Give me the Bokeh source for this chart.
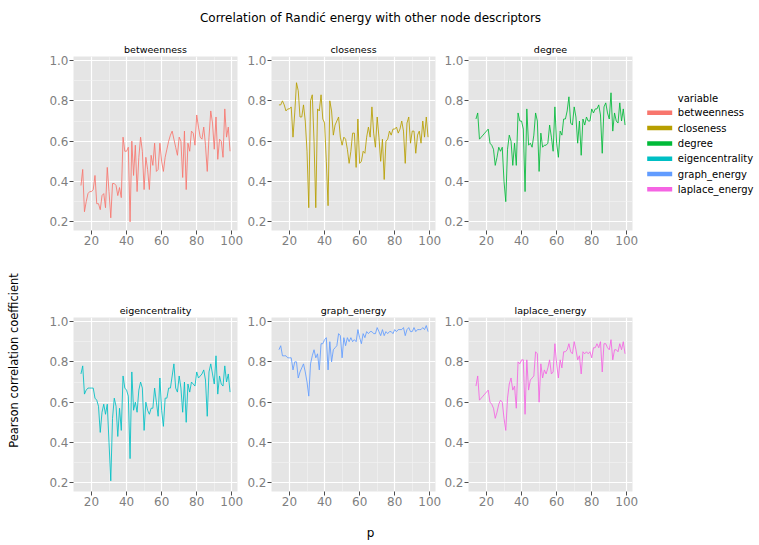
import math
from bokeh.plotting import figure
from bokeh.models import Range1d, FixedTicker, Label
from bokeh.layouts import row, column
from bokeh.embed import file_html
from bokeh.resources import INLINE
from bokeh.core.properties import value

# ---------------- data ----------------
p_values = list(range(14, 100))

variables = ["betweenness", "closeness", "degree", "eigencentrality",
             "graph_energy", "laplace_energy"]
colors = ["#F8766D", "#B79F00", "#00BA38", "#00BFC4", "#619CFF", "#F564E3"]

betweenness = [.38, .46, .25, .30, .34, .35, .35, .36, .43, .29,
               .29, .26, .33, .34, .27, .47, .35, .22, .39, .39,
               .38, .33, .37, .32, .62, .55, .55, .57, .20, .60,
               .43, .58, .35, .52, .62, .55, .36, .52, .46, .36,
               .53, .48, .59, .45, .46, .59, .50, .45, .52, .56,
               .60, .63, .65, .61, .57, .53, .62, .60, .42, .65,
               .36, .59, .55, .65, .64, .58, .73, .67, .62, .61,
               .67, .58, .45, .62, .75, .69, .56, .72, .51, .61,
               .60, .52, .76, .62, .67, .55]

closeness = [.78, .78, .80, .78, .75, .76, .76, .77, .62, .74,
             .89, .85, .72, .72, .78, .70, .55, .27, .80, .83,
             .60, .27, .76, .75, .83, .71, .69, .50, .28, .80,
             .75, .63, .68, .70, .72, .62, .58, .62, .61, .56,
             .49, .55, .64, .64, .47, .71, .49, .50, .55, .54,
             .62, .67, .62, .77, .64, .57, .72, .62, .50, .61,
             .41, .60, .61, .65, .63, .66, .66, .67, .64, .66,
             .70, .65, .49, .69, .72, .59, .65, .65, .54, .63,
             .65, .59, .70, .62, .72, .62]

degree = [.71, .74, .61, .62, .63, .64, .65, .66, .59, .58,
          .56, .48, .52, .57, .55, .57, .40, .30, .56, .63,
          .60, .48, .59, .48, .74, .70, .70, .66, .35, .76,
          .58, .59, .57, .63, .74, .70, .45, .64, .57, .58,
          .58, .59, .68, .62, .55, .77, .59, .52, .65, .63,
          .71, .71, .75, .82, .69, .68, .77, .72, .59, .70,
          .53, .71, .68, .72, .70, .70, .76, .74, .76, .76,
          .78, .73, .54, .77, .79, .74, .71, .84, .65, .74,
          .70, .69, .79, .70, .76, .68]

eigencentrality = [.74, .78, .64, .66, .67, .67, .67, .67, .62, .61,
                   .58, .45, .55, .59, .54, .59, .40, .21, .52, .62,
                   .58, .43, .57, .46, .73, .67, .66, .63, .32, .75,
                   .56, .60, .55, .66, .70, .67, .46, .60, .56, .54,
                   .57, .57, .67, .60, .53, .72, .56, .48, .62, .62,
                   .67, .67, .73, .79, .67, .65, .73, .67, .55, .70,
                   .50, .69, .65, .70, .69, .68, .75, .72, .73, .74,
                   .76, .71, .53, .75, .79, .74, .69, .83, .64, .73,
                   .69, .68, .78, .70, .74, .65]

graph_energy = [.86, .88, .83, .83, .83, .82, .82, .82, .76, .80,
                .80, .72, .75, .77, .79, .75, .70, .63, .79, .83,
                .86, .82, .84, .76, .89, .89, .91, .92, .76, .90,
                .80, .86, .87, .88, .94, .93, .82, .92, .88, .92,
                .90, .92, .90, .91, .90, .96, .92, .89, .94, .92,
                .95, .94, .95, .95, .94, .94, .97, .95, .93, .96,
                .93, .95, .94, .95, .95, .94, .96, .95, .96, .96,
                .96, .97, .93, .96, .97, .95, .95, .97, .95, .96,
                .96, .96, .97, .96, .98, .95]

laplace_energy = [.68, .73, .61, .62, .63, .64, .65, .66, .60, .59,
                  .57, .52, .55, .59, .61, .60, .52, .46, .62, .69,
                  .72, .66, .68, .57, .80, .79, .81, .81, .54, .81,
                  .66, .71, .72, .73, .85, .84, .60, .79, .72, .76,
                  .74, .77, .81, .74, .75, .89, .79, .72, .81, .77,
                  .85, .85, .86, .89, .85, .84, .90, .86, .81, .83,
                  .74, .85, .84, .85, .84, .85, .82, .87, .87, .89,
                  .87, .90, .75, .89, .89, .87, .86, .91, .81, .86,
                  .86, .85, .89, .86, .90, .84]

series = [betweenness, closeness, degree, eigencentrality, graph_energy, laplace_energy]

x_ticks = [20, 40, 60, 80, 100]
x_minor = [30, 50, 70, 90]
y_ticks = [0.2, 0.4, 0.6, 0.8, 1.0]
y_minor = [0.3, 0.5, 0.7, 0.9]

title_text = "Correlation of Randić energy with other node descriptors"
x_label = "p"
y_label = "Pearson correlation coefficient"
legend_title = "variable"

# ---------------- styling ----------------
FONT = "DejaVu Sans"
BG = "#E5E5E5"
TICK_COLOR = "#7F7F7F"


def blank(width, height):
    f = figure(width=width, height=height, output_backend="svg", toolbar_location=None,
               x_range=Range1d(0, width), y_range=Range1d(height, 0),
               x_axis_location=None, y_axis_location=None, min_border=0)
    f.outline_line_color = None
    f.grid.visible = False
    f.background_fill_color = "white"
    f.border_fill_color = "white"
    return f


def panel(idx, top_border, bottom_border, left_border, right_border):
    f = figure(frame_width=164, frame_height=174, output_backend="svg",
               toolbar_location=None,
               x_range=Range1d(9.75, 103.25), y_range=Range1d(0.157, 1.02),
               min_border_left=left_border, min_border_right=right_border,
               min_border_top=top_border, min_border_bottom=bottom_border)
    f.background_fill_color = BG
    f.border_fill_color = "white"
    f.outline_line_color = None
    f.title.text = variables[idx]
    f.title.align = "center"
    f.title.text_font = FONT
    f.title.text_font_size = "9.5px"
    f.title.text_font_style = "normal"
    f.title.text_color = "black"
    f.title.standoff = 3
    f.xaxis.ticker = FixedTicker(ticks=x_ticks, minor_ticks=x_minor)
    f.yaxis.ticker = FixedTicker(ticks=y_ticks, minor_ticks=y_minor)
    f.yaxis.major_label_overrides = {t: f"{t:.1f}" for t in y_ticks}
    for ax in (f.xaxis, f.yaxis):
        ax.axis_line_color = None
        ax.major_tick_line_color = "#4D4D4D"
        ax.major_tick_out = 4
        ax.major_tick_in = 0
        ax.minor_tick_line_color = None
        ax.major_label_text_font = FONT
        ax.major_label_text_font_size = "12px"
        ax.major_label_text_color = TICK_COLOR
        ax.major_label_standoff = 1
    f.grid.grid_line_color = "white"
    f.grid.grid_line_width = 1.2
    f.grid.minor_grid_line_color = "#F4F4F4"
    f.grid.minor_grid_line_width = 0.6
    f.line(p_values, series[idx], line_color=colors[idx], line_width=1, line_alpha=0.85)
    return f


top_b, top_bb = 16, 29
bot_b, bot_bb = 58, 25
borders_lr = [(32, 7), (25, 6), (25, 7)]

top_row = row(*[panel(i, top_b, top_bb, *borders_lr[i]) for i in range(3)])
bot_row = row(*[panel(i + 3, bot_b, bot_bb, *borders_lr[i]) for i in range(3)])
grid = column(top_row, bot_row)

# title
title_fig = blank(759, 40)
title_fig.add_layout(Label(x=370, y=17, text=title_text, text_align="center",
                           text_baseline="alphabetic", text_font=FONT,
                           text_font_size="12px", text_color="black"))

# y label
ylab_fig = blank(41, 476)
ylab_fig.add_layout(Label(x=13, y=320, text=y_label, angle=math.pi / 2,
                          text_align="center", text_baseline="middle",
                          text_font=FONT, text_font_size="11.5px", text_color="black"))

# legend
legend_fig = blank(124, 476)
leg_y = [72.3 + 15.3 * i for i in range(len(variables))]
legend_fig.segment(x0=[7.7] * len(variables), x1=[32.7] * len(variables),
                   y0=leg_y, y1=leg_y, line_color=colors, line_width=4.5)
legend_fig.text(x=[38.3] * len(variables), y=leg_y, text=variables,
                text_baseline="middle", text_align="left",
                text_font=value(FONT), text_font_size=value("10px"), text_color="black")
legend_fig.text(x=[38.3], y=[58.3], text=[legend_title], text_baseline="middle",
                text_align="left", text_font=value(FONT),
                text_font_size=value("10px"), text_color="black")

# x label
xlab_fig = blank(759, 29)
xlab_fig.add_layout(Label(x=370, y=16, text=x_label, text_align="center",
                          text_baseline="middle", text_font=FONT,
                          text_font_size="12px", text_color="black"))

layout = column(title_fig, row(ylab_fig, grid, legend_fig), xlab_fig)

open("out.html", "w").write(file_html(layout, INLINE))
